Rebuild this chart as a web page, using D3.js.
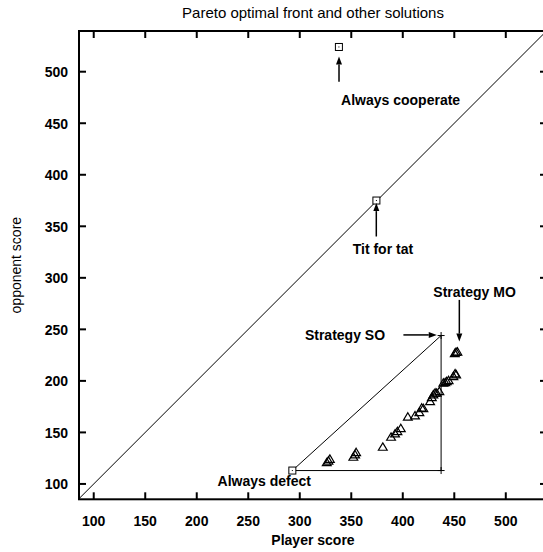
<!DOCTYPE html>
<html>
<head>
<meta charset="utf-8">
<script src="https://cdn.jsdelivr.net/npm/d3@7"></script>
<style>
  html, body { margin: 0; padding: 0; background: #fff; }
  svg { display: block; font-family: "Liberation Sans", Arial, Helvetica, sans-serif; }
</style>
</head>
<body>
<svg id="chart" width="543" height="552"></svg>
<script>
// Reference strategies (boxed markers)
const refNames = ["Always cooperate", "Tit for tat", "Always defect"];
const refPlayer = [338.0, 374.4, 292.8];
const refOpponent = [524.0, 375.0, 113.0];

// Single-objective optimum
const soPlayer = 437.2;
const soOpponent = 244.0;

// Multi-objective solutions (Pareto front and neighbours)
const frontPlayer = [326.2, 327.8, 329.2, 352.0, 353.7, 354.7, 380.6, 388.6, 392.5, 394.8,
  398.1, 404.9, 411.9, 416.1, 418.4, 420.0, 426.5, 428.2, 429.7, 431.4, 432.9, 435.5,
  439.4, 441.2, 442.7, 444.5, 449.1, 450.8, 451.8, 450.5, 451.7, 453.0];
const frontOpponent = [120.6, 122.2, 123.9, 125.9, 128.2, 130.4, 135.6, 145.3, 148.5, 150.8,
  153.7, 164.8, 166.0, 169.2, 173.5, 173.1, 179.9, 183.8, 186.4, 188.1, 188.0, 189.6,
  197.8, 198.3, 199.3, 200.2, 204.2, 206.8, 205.9, 226.5, 227.6, 228.0];

// Axis ticks
const xTicks = [100, 150, 200, 250, 300, 350, 400, 450, 500];
const yTicks = [100, 150, 200, 250, 300, 350, 400, 450, 500];

// Annotations: text, anchor point, alignment
const labelText = ["Always cooperate", "Tit for tat", "Strategy SO", "Strategy MO", "Always defect"];
const labelX = [340.1, 351.4, 382.8, 429.7, 220.2];
const labelY = [472.0, 328.1, 244.6, 286.4, 102.9];
const labelAnchor = ["start", "start", "end", "start", "start"];

// Arrows: tail -> head
const arrowFromX = [338.1, 374.3, 400.6, 454.9];
const arrowFromY = [490.2, 340.1, 244.6, 278.6];
const arrowToX = [338.1, 374.3, 433.0, 454.9];
const arrowToY = [514.8, 372.5, 244.6, 238.1];

const svg = d3.select("#chart");
const pL = 79, pR = 547, pT = 31, pB = 499.3;

const x = d3.scaleLinear().domain([85.7, 540.0]).range([pL, pR]);
const y = d3.scaleLinear().domain([85.1, 539.5]).range([pB, pT]);

svg.append("rect").attr("width", 543).attr("height", 552).attr("fill", "#fff");

svg.append("defs").append("clipPath").attr("id", "plotclip")
  .append("rect").attr("x", pL).attr("y", pT)
  .attr("width", pR - pL).attr("height", pB - pT);

const plot = svg.append("g").attr("clip-path", "url(#plotclip)");

// y = x reference line
const d0 = Math.max(x.domain()[0], y.domain()[0]);
const d1 = Math.min(x.domain()[1], y.domain()[1]);
plot.append("line")
  .attr("x1", x(d0)).attr("y1", y(d0))
  .attr("x2", x(d1)).attr("y2", y(d1))
  .attr("stroke", "#000").attr("stroke-width", 1);

// triangle between Always defect and Strategy SO
const defX = refPlayer[2], defY = refOpponent[2];
const triPts = [[defX, defY], [soPlayer, soOpponent], [soPlayer, defY], [defX, defY]];
plot.append("path")
  .attr("d", d3.line().x(d => x(d[0])).y(d => y(d[1]))(triPts))
  .attr("fill", "none").attr("stroke", "#000").attr("stroke-width", 1);

// crosses on the triangle corners
const crossPts = [[soPlayer, soOpponent], [soPlayer, defY]];
crossPts.forEach(p => {
  const cx = x(p[0]), cy = y(p[1]);
  plot.append("path")
    .attr("d", `M${cx - 3.5},${cy}H${cx + 3.5}M${cx},${cy - 3.5}V${cy + 3.5}`)
    .attr("stroke", "#000").attr("stroke-width", 1).attr("fill", "none");
});

// open triangles for the front
const triPath = "M0,-4.4L4.4,3L-4.4,3Z";
plot.selectAll("path.front")
  .data(frontPlayer.map((p, i) => [p, frontOpponent[i]]))
  .join("path").attr("class", "front")
  .attr("d", triPath)
  .attr("transform", d => `translate(${x(d[0])},${y(d[1])})`)
  .attr("fill", "none").attr("stroke", "#000").attr("stroke-width", 1.2);

// boxed markers for reference strategies
const boxes = plot.selectAll("g.ref")
  .data(refPlayer.map((p, i) => [p, refOpponent[i]]))
  .join("g").attr("class", "ref")
  .attr("transform", d => `translate(${x(d[0])},${y(d[1])})`);
boxes.append("rect").attr("x", -3.5).attr("y", -3.5).attr("width", 7).attr("height", 7)
  .attr("fill", "#fff").attr("stroke", "#000").attr("stroke-width", 1);
boxes.append("rect").attr("x", -0.5).attr("y", -0.5).attr("width", 1).attr("height", 1)
  .attr("fill", "#000");

// arrows
arrowFromX.forEach((fx, i) => {
  const x1 = x(fx), y1 = y(arrowFromY[i]), x2 = x(arrowToX[i]), y2 = y(arrowToY[i]);
  const ang = Math.atan2(y2 - y1, x2 - x1);
  const len = 8, hw = 3;
  const bx = x2 - len * Math.cos(ang), by = y2 - len * Math.sin(ang);
  svg.append("line").attr("x1", x1).attr("y1", y1).attr("x2", bx).attr("y2", by)
    .attr("stroke", "#000").attr("stroke-width", 1.5);
  const px = -Math.sin(ang) * hw, py = Math.cos(ang) * hw;
  svg.append("path")
    .attr("d", `M${x2},${y2}L${bx + px},${by + py}L${bx - px},${by - py}Z`)
    .attr("fill", "#000");
});

// annotation labels
labelText.forEach((t, i) => {
  svg.append("text")
    .attr("x", x(labelX[i])).attr("y", y(labelY[i])).attr("dy", "0.35em")
    .attr("text-anchor", labelAnchor[i])
    .attr("font-size", 14).attr("font-weight", "bold").attr("fill", "#000")
    .text(t);
});

// border
svg.append("rect").attr("x", pL).attr("y", pT)
  .attr("width", pR - pL).attr("height", pB - pT)
  .attr("fill", "none").attr("stroke", "#000").attr("stroke-width", 2);

// ticks on all four sides, pointing inward
const tl = 7;
const tickG = svg.append("g").attr("stroke", "#000").attr("stroke-width", 2);
xTicks.forEach(v => {
  tickG.append("line").attr("x1", x(v)).attr("x2", x(v)).attr("y1", pB).attr("y2", pB - tl);
  tickG.append("line").attr("x1", x(v)).attr("x2", x(v)).attr("y1", pT).attr("y2", pT + tl);
});
yTicks.forEach(v => {
  tickG.append("line").attr("y1", y(v)).attr("y2", y(v)).attr("x1", pL).attr("x2", pL + tl);
  tickG.append("line").attr("y1", y(v)).attr("y2", y(v)).attr("x1", pR).attr("x2", pR - tl);
});

// tick labels
svg.append("g").selectAll("text").data(xTicks).join("text")
  .attr("x", d => x(d)).attr("y", 526)
  .attr("text-anchor", "middle").attr("font-size", 14).attr("font-weight", "bold")
  .text(d => d);
svg.append("g").selectAll("text").data(yTicks).join("text")
  .attr("x", 68).attr("y", d => y(d)).attr("dy", "0.38em")
  .attr("text-anchor", "end").attr("font-size", 14).attr("font-weight", "bold")
  .text(d => d);

// axis titles and chart title
svg.append("text").attr("x", (pL + pR) / 2).attr("y", 545)
  .attr("text-anchor", "middle").attr("font-size", 14).attr("font-weight", "bold")
  .text("Player score");
svg.append("text")
  .attr("transform", `translate(21,${(pT + pB) / 2}) rotate(-90)`)
  .attr("text-anchor", "middle").attr("font-size", 14)
  .text("opponent score");
svg.append("text").attr("x", (pL + pR) / 2).attr("y", 18)
  .attr("text-anchor", "middle").attr("font-size", 15)
  .text("Pareto optimal front and other solutions");
</script>
</body>
</html>
